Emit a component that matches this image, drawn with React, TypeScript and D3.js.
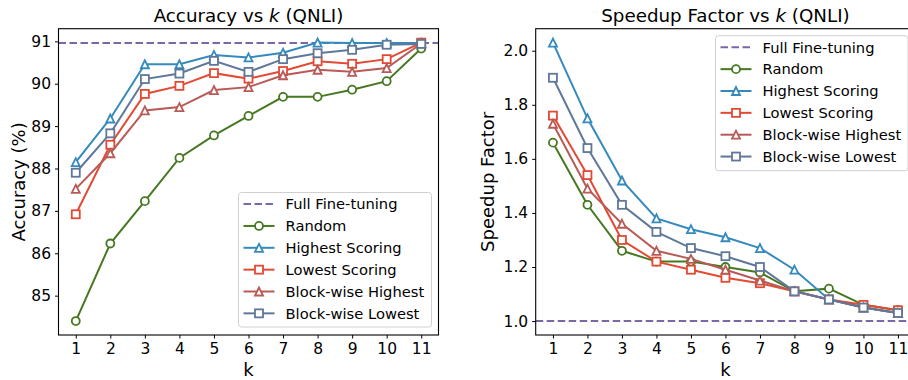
import React, { useRef, useEffect } from "react";
import * as d3 from "d3";

const ks = [1, 2, 3, 4, 5, 6, 7, 8, 9, 10, 11];

const seriesNames = ["Random", "Highest Scoring", "Lowest Scoring", "Block-wise Highest", "Block-wise Lowest"];
const seriesColors = ["#467821", "#348ABD", "#E24A33", "#B85A56", "#5F7899"];
const seriesMarkers = ["circle", "triangle", "square", "triangle", "square"];
const baselineName = "Full Fine-tuning";
const baselineColor = "#7A68A6";

// accuracy (%)
const accRandom = [84.4, 86.23, 87.23, 88.25, 88.78, 89.24, 89.69, 89.69, 89.86, 90.06, 90.83];
const accHighest = [88.15, 89.18, 90.46, 90.46, 90.68, 90.62, 90.73, 90.97, 90.96, 90.96, 90.96];
const accLowest = [86.92, 88.56, 89.76, 89.95, 90.25, 90.12, 90.3, 90.53, 90.47, 90.58, 90.97];
const accBlockHigh = [87.52, 88.36, 89.37, 89.45, 89.85, 89.92, 90.2, 90.33, 90.28, 90.37, 90.95];
const accBlockLow = [87.9, 88.83, 90.11, 90.24, 90.54, 90.28, 90.58, 90.72, 90.8, 90.92, 90.94];
const accFull = 90.96;
const accTicks = [85, 86, 87, 88, 89, 90, 91];

// speedup factor
const spRandom = [1.66, 1.43, 1.26, 1.22, 1.22, 1.2, 1.18, 1.11, 1.12, 1.06, 1.04];
const spHighest = [2.03, 1.75, 1.52, 1.38, 1.34, 1.31, 1.27, 1.19, 1.08, 1.05, 1.03];
const spLowest = [1.76, 1.54, 1.3, 1.22, 1.19, 1.16, 1.14, 1.11, 1.08, 1.06, 1.04];
const spBlockHigh = [1.73, 1.49, 1.36, 1.26, 1.23, 1.19, 1.15, 1.11, 1.08, 1.05, 1.03];
const spBlockLow = [1.9, 1.64, 1.43, 1.33, 1.27, 1.24, 1.2, 1.11, 1.08, 1.05, 1.03];
const spFull = 1.0;
const spTicks = [1.0, 1.2, 1.4, 1.6, 1.8, 2.0];

const FONT = "DejaVu Sans, sans-serif";

function drawMarker(g, kind, x, y, color, size = 8) {
  const h = size / 2;
  if (kind === "circle") {
    g.append("circle").attr("cx", x).attr("cy", y).attr("r", h)
      .attr("fill", "white").attr("stroke", color).attr("stroke-width", 1.8);
  } else if (kind === "square") {
    g.append("rect").attr("x", x - h).attr("y", y - h).attr("width", size).attr("height", size)
      .attr("fill", "white").attr("stroke", color).attr("stroke-width", 1.8);
  } else {
    g.append("path").attr("d", `M${x},${y - h}L${x - h},${y + h}L${x + h},${y + h}Z`)
      .attr("fill", "white").attr("stroke", color).attr("stroke-width", 1.8)
      .attr("stroke-linejoin", "miter");
  }
}

function drawPanel(svg, opts) {
  const { left, right, top, bottom, data, full, ticks, fmt, title, ylabel, ylabelX, legend } = opts;

  const allVals = data.flat().concat([full]);
  const lo = d3.min(allVals), hi = d3.max(allVals);
  const pad = (hi - lo) * 0.05;

  const x = d3.scaleLinear().domain([0.5, 11.5]).range([left, right]);
  const y = d3.scaleLinear().domain([lo - pad, hi + pad]).range([bottom, top]);

  const g = svg.append("g");

  // baseline
  g.append("line")
    .attr("x1", left).attr("x2", right)
    .attr("y1", y(full)).attr("y2", y(full))
    .attr("stroke", baselineColor).attr("stroke-width", 2)
    .attr("stroke-dasharray", "7.5,3.5");

  const line = d3.line().x((d, i) => x(ks[i])).y((d) => y(d));

  data.forEach((vals, si) => {
    g.append("path").datum(vals)
      .attr("fill", "none").attr("stroke", seriesColors[si]).attr("stroke-width", 2)
      .attr("d", line);
    vals.forEach((v, i) => drawMarker(g, seriesMarkers[si], x(ks[i]), y(v), seriesColors[si]));
  });

  // axes
  const xAxis = d3.axisBottom(x).tickValues(ks).tickFormat(d3.format("d")).tickSize(3.5).tickPadding(4);
  const gx = svg.append("g").attr("transform", `translate(0,${bottom})`).call(xAxis);
  const yAxis = d3.axisLeft(y).tickValues(ticks).tickFormat(d3.format(fmt)).tickSize(3.5).tickPadding(4);
  const gy = svg.append("g").attr("transform", `translate(${left},0)`).call(yAxis);
  [gx, gy].forEach((a) => {
    a.select(".domain").remove();
    a.selectAll("text").attr("font-family", FONT).attr("font-size", 15.5).attr("fill", "#000");
    a.selectAll("line").attr("stroke", "#000").attr("stroke-width", 1);
  });

  // frame
  svg.append("rect")
    .attr("x", left).attr("y", top).attr("width", right - left).attr("height", bottom - top)
    .attr("fill", "none").attr("stroke", "#000").attr("stroke-width", 1.1);

  svg.append("text")
    .attr("x", (left + right) / 2).attr("y", 22)
    .attr("text-anchor", "middle").attr("font-family", FONT).attr("font-size", 18.3)
    .call((t) => {
      t.append("tspan").text(title + " vs ");
      t.append("tspan").attr("font-style", "italic").text("k");
      t.append("tspan").text(" (QNLI)");
    });

  svg.append("text")
    .attr("x", (left + right) / 2).attr("y", 376)
    .attr("text-anchor", "middle").attr("font-family", FONT).attr("font-size", 18)
    .text("k");

  svg.append("text")
    .attr("transform", `translate(${ylabelX},${(top + bottom) / 2}) rotate(-90)`)
    .attr("text-anchor", "middle").attr("font-family", FONT).attr("font-size", 18)
    .text(ylabel);

  // legend
  const lg = svg.append("g");
  lg.append("rect")
    .attr("x", legend.x).attr("y", legend.y).attr("width", legend.w).attr("height", legend.h)
    .attr("rx", 3).attr("fill", "white").attr("fill-opacity", 0.8)
    .attr("stroke", "#d0d0d0").attr("stroke-width", 1);
  const rowGap = 21.85;
  const hx0 = legend.x + 5, hx1 = legend.x + 36, tx = legend.x + 47;
  const labels = [baselineName].concat(seriesNames);
  labels.forEach((name, i) => {
    const ry = legend.y + 11.6 + i * rowGap;
    if (i === 0) {
      lg.append("line").attr("x1", hx0).attr("x2", hx1).attr("y1", ry).attr("y2", ry)
        .attr("stroke", baselineColor).attr("stroke-width", 2).attr("stroke-dasharray", "7.5,3.5");
    } else {
      lg.append("line").attr("x1", hx0).attr("x2", hx1).attr("y1", ry).attr("y2", ry)
        .attr("stroke", seriesColors[i - 1]).attr("stroke-width", 2);
      drawMarker(lg, seriesMarkers[i - 1], (hx0 + hx1) / 2, ry, seriesColors[i - 1]);
    }
    lg.append("text").attr("x", tx).attr("y", ry + 5.3)
      .attr("font-family", FONT).attr("font-size", 14.7).attr("fill", "#000")
      .text(name);
  });
}

const App = () => {
  const svgRef = useRef(null);

  useEffect(() => {
    const svg = d3.select(svgRef.current);
    svg.selectAll("*").remove();

    drawPanel(svg, {
      left: 58.5, right: 438.5, top: 28.7, bottom: 335,
      data: [accRandom, accHighest, accLowest, accBlockHigh, accBlockLow],
      full: accFull, ticks: accTicks, fmt: "d",
      title: "Accuracy", ylabel: "Accuracy (%)", ylabelX: 24.5,
      legend: { x: 238.5, y: 192.5, w: 193, h: 134.5 },
    });

    drawPanel(svg, {
      left: 535.7, right: 915.2, top: 28.7, bottom: 335,
      data: [spRandom, spHighest, spLowest, spBlockHigh, spBlockLow],
      full: spFull, ticks: spTicks, fmt: ".1f",
      title: "Speedup Factor", ylabel: "Speedup Factor", ylabelX: 494,
      legend: { x: 715.5, y: 35.7, w: 192.5, h: 135 },
    });
  }, []);

  return (
    <svg ref={svgRef} width={908} height={380}
      style={{ position: "absolute", left: 0, top: 0, background: "white" }} />
  );
};

export default App;
